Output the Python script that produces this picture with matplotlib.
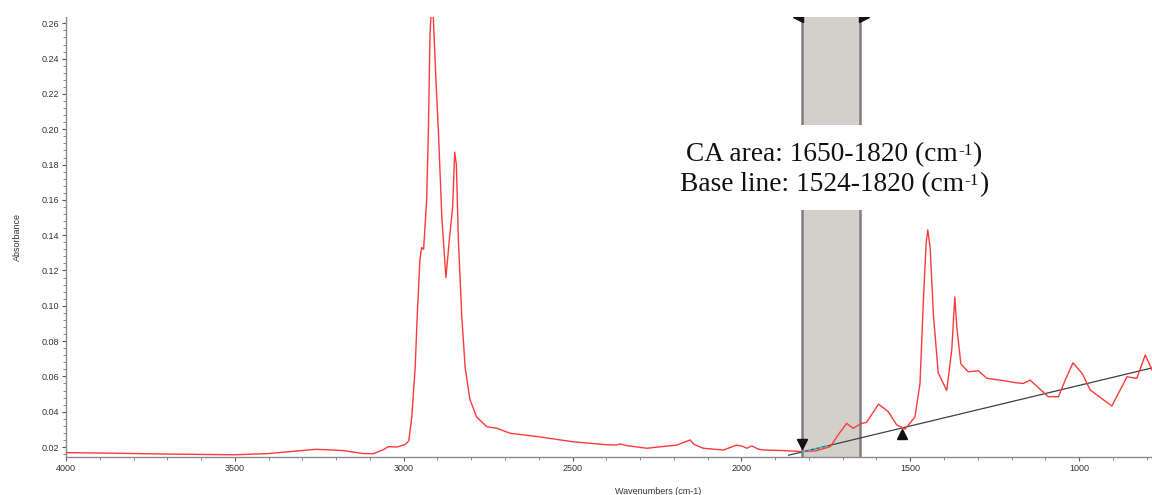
import numpy as np
import matplotlib
matplotlib.use("Agg")
import matplotlib.pyplot as plt
from matplotlib.patches import Rectangle
from matplotlib.ticker import MultipleLocator, FixedLocator, FormatStrFormatter

plt.rcParams['font.family'] = ['Liberation Sans', 'DejaVu Sans']

# ---- data ----
wavenumbers = [4000, 3900, 3800, 3700, 3600, 3500, 3400, 3330, 3260, 3180, 3120, 3090,
               3060, 3046, 3020, 2995, 2985, 2976, 2966, 2960, 2952, 2947, 2941, 2932,
               2927, 2922, 2917, 2912, 2904, 2897, 2887, 2875, 2865, 2855, 2849, 2844,
               2838, 2828, 2818, 2804, 2784, 2754, 2724, 2685, 2600, 2500, 2400, 2369,
               2360, 2340, 2280, 2191, 2152, 2140, 2113, 2053, 2014, 1995, 1984, 1969,
               1950, 1935, 1876, 1820, 1780, 1737, 1710, 1688, 1669, 1644, 1629, 1594,
               1565, 1540, 1515, 1486, 1471, 1461, 1453, 1448, 1441, 1431, 1417, 1392,
               1377, 1368, 1362, 1350, 1328, 1298, 1273, 1220, 1190, 1165, 1145, 1091,
               1061, 1041, 1018, 991, 967, 903, 858, 829, 804, 784]
absorbance = [0.0168, 0.0166, 0.0163, 0.0160, 0.0158, 0.0156, 0.0163, 0.0175, 0.0187,
              0.0180, 0.0163, 0.0162, 0.0185, 0.0202, 0.0200, 0.0215, 0.0235, 0.037,
              0.065, 0.094, 0.126, 0.133, 0.132, 0.160, 0.198, 0.254, 0.272, 0.262,
              0.226, 0.198, 0.150, 0.116, 0.137, 0.156, 0.187, 0.180, 0.137, 0.094,
              0.065, 0.047, 0.037, 0.0315, 0.0306, 0.0278, 0.0258, 0.0230, 0.0213,
              0.0211, 0.0218, 0.0208, 0.0193, 0.0211, 0.0240, 0.0215, 0.0193, 0.0183,
              0.0211, 0.0203, 0.0193, 0.0206, 0.0188, 0.0183, 0.0180, 0.0174, 0.0178,
              0.0202, 0.0278, 0.0334, 0.0306, 0.0334, 0.0340, 0.0443, 0.0400, 0.0325,
              0.0302, 0.037, 0.056, 0.103, 0.135, 0.143, 0.133, 0.094, 0.062, 0.052,
              0.075, 0.105, 0.088, 0.067, 0.0626, 0.0632, 0.0589, 0.0575, 0.0565,
              0.0560, 0.0579, 0.0485, 0.0485, 0.0579, 0.0677, 0.0617, 0.0523, 0.0432,
              0.0598, 0.0589, 0.0721, 0.0636]

ca_area = [1820, 1650]           # shaded band limits (cm-1)
baseline_wn = [1820, 1524]       # baseline anchor points
baseline_abs = [0.0172, 0.0308]
baseline_extent = [1860, 784]
cyan_segment = [1820, 1740]

x_ticks = [4000, 3500, 3000, 2500, 2000, 1500, 1000]
y_ticks = [0.02, 0.04, 0.06, 0.08, 0.10, 0.12, 0.14, 0.16, 0.18, 0.20, 0.22, 0.24, 0.26]

annotation_lines = [("CA area: 1650-1820 (cm", "-1", ")"),
                    ("Base line: 1524-1820 (cm", "-1", ")")]

W, H = 1152, 495
fig = plt.figure(figsize=(W / 100, H / 100), dpi=100)
ax = fig.add_axes([66 / W, 38 / H, 1 - 66 / W, (457 - 17) / H])

ax.set_xlim(4000, 784)
ax.set_ylim(0.01434, 0.2636)

# shaded CA area
ax.axvspan(ca_area[1], ca_area[0], color='#d3cfc9', zorder=1, lw=0)
for xv in ca_area:
    ax.axvline(xv, color='#7f7f7f', lw=1.8, zorder=2)

# spectrum
ax.plot(wavenumbers, absorbance, color='#ff3a3a', lw=1.0, zorder=4)

# baseline
slope = (baseline_abs[1] - baseline_abs[0]) / (baseline_wn[1] - baseline_wn[0])
bx = np.array(baseline_extent, dtype=float)
by = baseline_abs[0] + slope * (bx - baseline_wn[0])
ax.plot(bx, by, color='#404040', lw=0.9, zorder=3)
cx = np.array(cyan_segment, dtype=float)
cy = baseline_abs[0] + slope * (cx - baseline_wn[0])
ax.plot(cx, cy, color='#22d0e0', lw=1.2, ls=(0, (2, 1.5)), zorder=5)

# markers
ax.plot([baseline_wn[0]], [baseline_abs[0] + 0.0046], marker='v', color='#111111',
        markersize=7, zorder=6, clip_on=False)
ax.plot([baseline_wn[1]], [baseline_abs[1] - 0.0036], marker='^', color='#111111',
        markersize=7, zorder=6, clip_on=False)
ax.plot([ca_area[0] + 12], [0.2636], marker='<', color='#111111', markersize=7,
        zorder=6, clip_on=True)
ax.plot([ca_area[1] - 12], [0.2636], marker='>', color='#111111', markersize=7,
        zorder=6, clip_on=True)

# white box behind the annotation
fig.patches.append(Rectangle((668 / W, 1 - 210 / H), (1000 - 668) / W, 85 / H,
                             transform=fig.transFigure, facecolor='white',
                             edgecolor='none', zorder=6))

# annotation text (main text + superscript + closing paren)
renderer = fig.canvas.get_renderer()
centre_px = 834
baselines_px = [161.5, 191.5]
main_fs, sup_fs, sup_rise = 19.7, 12.5, 6.5
for (main, sup, close), base in zip(annotation_lines, baselines_px):
    widths = []
    for txt, fs in ((main, main_fs), (sup, sup_fs), (close, main_fs)):
        t = fig.text(0, 0, txt, family='Liberation Serif', fontsize=fs, color='#111111')
        widths.append(t.get_window_extent(renderer).width)
        t.remove()
    x = centre_px - sum(widths) / 2
    for (txt, fs, rise), w in zip(((main, main_fs, 0), (sup, sup_fs, sup_rise),
                                   (close, main_fs, 0)), widths):
        fig.text(x / W, 1 - (base - rise) / H, txt, family='Liberation Serif',
                 fontsize=fs, color='#111111', ha='left', va='baseline', zorder=7)
        x += w

# axes styling
for s in ['top', 'right']:
    ax.spines[s].set_visible(False)
for s in ['left', 'bottom']:
    ax.spines[s].set_color('#8a8a8a')
    ax.spines[s].set_linewidth(1.0)

ax.xaxis.set_major_locator(FixedLocator(x_ticks))
ax.xaxis.set_minor_locator(MultipleLocator(100))
ax.yaxis.set_major_locator(FixedLocator(y_ticks))
ax.yaxis.set_minor_locator(MultipleLocator(0.004))
ax.yaxis.set_major_formatter(FormatStrFormatter('%.2f'))
ax.xaxis.set_major_formatter(FormatStrFormatter('%d'))
ax.tick_params(axis='both', which='major', length=3, width=0.8, color='#555555',
               labelsize=6.5, labelcolor='#333333', pad=2)
ax.tick_params(axis='both', which='minor', length=2, width=0.6, color='#777777')

ax.set_ylabel('Absorbance', fontsize=6.5, color='#333333', labelpad=14)
ax.set_xlabel('Wavenumbers (cm-1)', fontsize=6.5, color='#333333', labelpad=12)
ax.xaxis.set_label_coords(0.545, -0.068)

fig.savefig('out.png', dpi=100)
